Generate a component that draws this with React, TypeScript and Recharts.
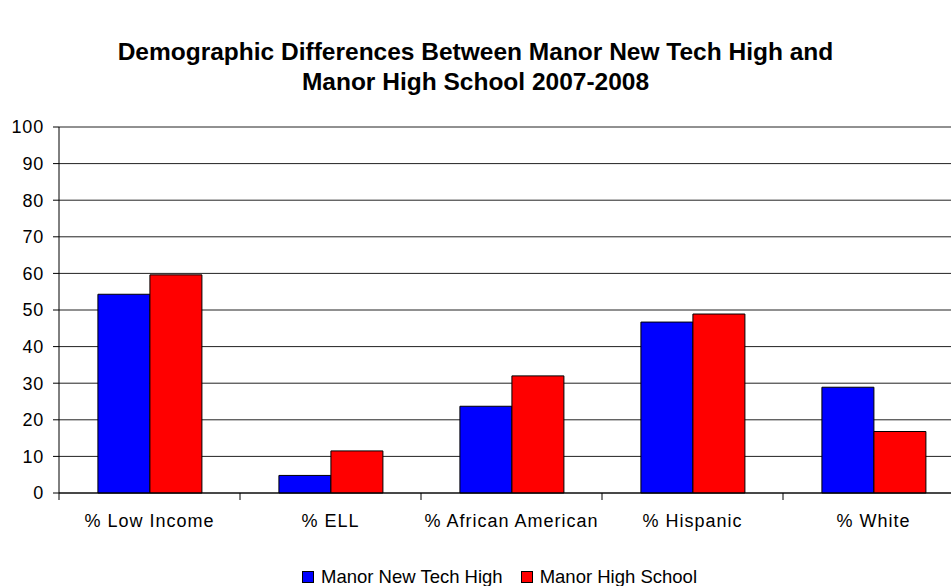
import { BarChart, Bar, XAxis, YAxis, CartesianGrid, Legend } from 'recharts'

const categories = ['% Low Income', '% ELL', '% African American', '% Hispanic', '% White']
const newTechValues = [54.3, 4.8, 23.7, 46.7, 28.9]
const manorHighValues = [59.6, 11.5, 32.0, 48.9, 16.8]
const yTicks = [0, 10, 20, 30, 40, 50, 60, 70, 80, 90, 100]

const SERIES = [
  { key: 'newTech', name: 'Manor New Tech High', color: '#0000ff' },
  { key: 'manorHigh', name: 'Manor High School', color: '#ff0000' },
]

const FONT = '"Liberation Sans", Arial, sans-serif'

// chart layout (the plot runs a bit past the right edge, like the original crop)
const CHART_W = 974
const CHART_H = 586
const Y_AXIS_W = 59
const MARGIN = { top: 127, right: 10, left: 0, bottom: 29 }
const BAND = (CHART_W - MARGIN.left - MARGIN.right - Y_AXIS_W) / categories.length

const data = categories.map((name, i) => ({
  name,
  newTech: newTechValues[i],
  manorHigh: manorHighValues[i],
}))

// label centred in the band, tick mark on the band's left boundary (Excel style)
function CategoryTick(props: any) {
  const { x, y, payload, index } = props
  const axisY = y - 21
  const left = x - BAND / 2
  return (
    <g>
      <line x1={left} y1={axisY} x2={left} y2={axisY + 7} stroke="#000" />
      {index === categories.length - 1 && (
        <line x1={x + BAND / 2} y1={axisY} x2={x + BAND / 2} y2={axisY + 7} stroke="#000" />
      )}
      <text
        x={x}
        y={y}
        dy="0.71em"
        textAnchor="middle"
        fill="#000"
        fontSize={18}
        letterSpacing={1}
        fontFamily={FONT}
      >
        {payload.value}
      </text>
    </g>
  )
}

function LegendContent() {
  return (
    <div
      style={{
        height: 24,
        display: 'flex',
        alignItems: 'center',
        fontFamily: FONT,
        fontSize: 18.5,
        color: '#000',
        paddingLeft: 302,
        gap: 18,
      }}
    >
      {SERIES.map(s => (
        <span key={s.key} style={{ display: 'flex', alignItems: 'center' }}>
          <span
            style={{
              width: 10,
              height: 10,
              background: s.color,
              border: '1px solid #000',
              marginRight: 7,
            }}
          />
          {s.name}
        </span>
      ))}
    </div>
  )
}

export default function App() {
  return (
    <div
      style={{
        position: 'absolute',
        left: 0,
        top: 0,
        width: 951,
        height: 586,
        overflow: 'hidden',
        background: '#fff',
      }}
    >
      <div
        style={{
          position: 'absolute',
          top: 37,
          left: 0,
          width: 951,
          textAlign: 'center',
          fontFamily: FONT,
          fontWeight: 'bold',
          fontSize: 24.5,
          lineHeight: '30px',
          color: '#000',
        }}
      >
        Demographic Differences Between Manor New Tech High and
        <br />
        Manor High School 2007-2008
      </div>
      <BarChart
        width={CHART_W}
        height={CHART_H}
        data={data}
        margin={MARGIN}
        barCategoryGap="21.5%"
        barGap={0}
      >
        <CartesianGrid vertical={false} stroke="#222" />
        <XAxis
          dataKey="name"
          interval={0}
          height={40}
          tickLine={false}
          tickSize={7}
          tickMargin={14}
          axisLine={{ stroke: '#000' }}
          tick={<CategoryTick />}
        />
        <YAxis
          width={Y_AXIS_W}
          domain={[0, 100]}
          ticks={yTicks}
          interval={0}
          tickSize={6}
          tickMargin={9}
          axisLine={{ stroke: '#000' }}
          tickLine={{ stroke: '#000' }}
          tick={{ fill: '#000', fontSize: 18, fontFamily: FONT, letterSpacing: 0.8 }}
        />
        <Legend
          verticalAlign="bottom"
          content={<LegendContent />}
          wrapperStyle={{ top: 565, left: 0, width: 951 }}
        />
        {SERIES.map(s => (
          <Bar
            key={s.key}
            dataKey={s.key}
            name={s.name}
            fill={s.color}
            stroke="#000"
            strokeWidth={1}
            isAnimationActive={false}
          />
        ))}
      </BarChart>
    </div>
  )
}
